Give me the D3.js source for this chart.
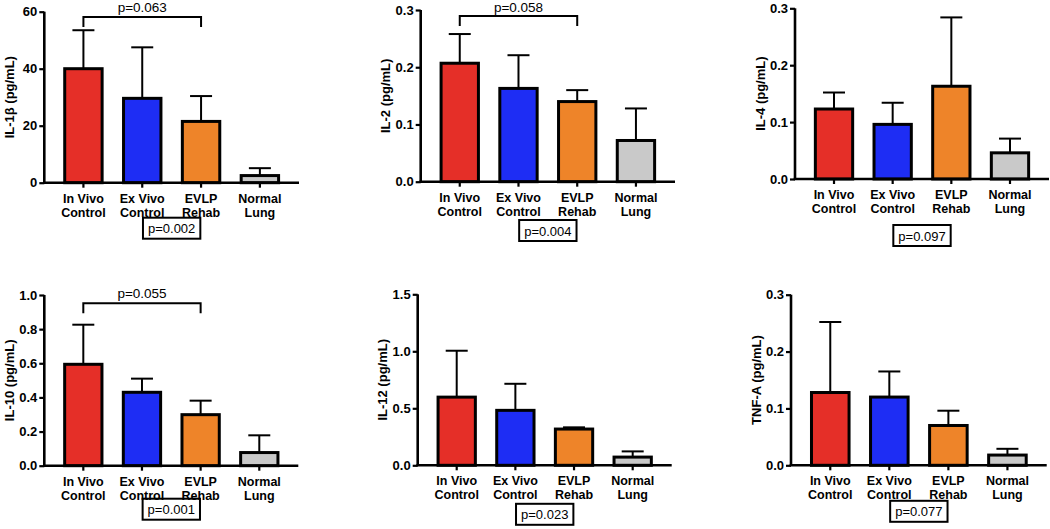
<!DOCTYPE html>
<html><head><meta charset="utf-8">
<script src="https://cdn.jsdelivr.net/npm/d3@7"></script>
<style>
body{margin:0;background:#fff;}
svg{display:block;}
text{font-family:"Liberation Sans",Arial,Helvetica,sans-serif;}
</style></head>
<body><svg id="c" width="1050" height="529"></svg>
<script>
// ---- data ----
const categories = [["In Vivo","Control"],["Ex Vivo","Control"],["EVLP","Rehab"],["Normal","Lung"]];
const barColors = ["#E52F28","#1E2DF4","#EE8429","#C9C9C9"];
const yLabels = ["IL-1β (pg/mL)","IL-2 (pg/mL)","IL-4 (pg/mL)","IL-10 (pg/mL)","IL-12 (pg/mL)","TNF-A (pg/mL)"];
const il1bMean = [40, 29.6, 21.5, 2.5],      il1bErr = [53.5, 47.5, 30.4, 5.1];
const il2Mean  = [0.207, 0.163, 0.140, 0.072], il2Err = [0.258, 0.221, 0.160, 0.128];
const il4Mean  = [0.123, 0.096, 0.163, 0.046], il4Err = [0.152, 0.134, 0.284, 0.071];
const il10Mean = [0.594, 0.430, 0.299, 0.077], il10Err = [0.826, 0.510, 0.381, 0.178];
const il12Mean = [0.598, 0.482, 0.318, 0.072], il12Err = [1.005, 0.715, 0.333, 0.122];
const tnfMean  = [0.128, 0.120, 0.070, 0.018], tnfErr = [0.252, 0.165, 0.096, 0.029];
const yMax = [60, 0.3, 0.3, 1.0, 1.5, 0.3];
const yTicks = [[0,20,40,60],[0,0.1,0.2,0.3],[0,0.1,0.2,0.3],[0,0.2,0.4,0.6,0.8,1.0],[0,0.5,1.0,1.5],[0,0.1,0.2,0.3]];
const tickFormats = ["d",".1f",".1f",".1f",".1f",".1f"];
const overallP = ["p=0.002","p=0.004","p=0.097","p=0.001","p=0.023","p=0.077"];
const bracketP = ["p=0.063","p=0.058",null,"p=0.055",null,null];

const means = [il1bMean, il2Mean, il4Mean, il10Mean, il12Mean, tnfMean];
const errs  = [il1bErr, il2Err, il4Err, il10Err, il12Err, tnfErr];

// ---- layout ----
const layout = [
  {left:44.3, right:299, top:11.7, bottom:182.7, box:35, br:17},
  {left:420.7, right:675, top:10, bottom:181.7, box:38.3, br:16},
  {left:795, right:1049, top:8.3, bottom:179, box:46, br:0},
  {left:44.3, right:298.3, top:295, bottom:465.7, box:33, br:303.3},
  {left:417.7, right:671.7, top:294.3, bottom:465.3, box:38.5, br:0},
  {left:791, right:1046.7, top:294.7, bottom:465.3, box:35.5, br:0}
];

const svg = d3.select("#c");

layout.forEach((L, pi) => {
  const g = svg.append("g");
  const x = d3.scaleBand().domain(d3.range(categories.length)).range([L.left, L.right])
    .paddingInner(0.33).paddingOuter(0.33);
  const y = d3.scaleLinear().domain([0, yMax[pi]]).range([L.bottom, L.top]);

  const data = means[pi].map((m, i) => ({i, m, e: errs[pi][i]}));
  // error bars (behind bars)
  const eg = g.append("g").attr("stroke","#000").attr("stroke-width",2).attr("fill","none");
  data.forEach(d => {
    const cx = x(d.i) + x.bandwidth()/2;
    eg.append("line").attr("x1",cx).attr("x2",cx).attr("y1",y(d.m)).attr("y2",y(d.e));
    eg.append("line").attr("x1",cx-11).attr("x2",cx+11).attr("y1",y(d.e)).attr("y2",y(d.e));
  });
  g.append("g").selectAll("rect").data(data).join("rect")
    .attr("x", d => x(d.i)+1)
    .attr("width", x.bandwidth()-2)
    .attr("y", d => y(d.m))
    .attr("height", d => y(0) - y(d.m))
    .attr("fill", d => barColors[d.i])
    .attr("stroke","#000").attr("stroke-width",3);

  // y axis
  const ya = g.append("g").attr("transform",`translate(${L.left},0)`)
    .call(d3.axisLeft(y).tickValues(yTicks[pi]).tickFormat(d3.format(tickFormats[pi]))
      .tickSize(5).tickSizeOuter(0).tickPadding(2));
  ya.select(".domain").attr("stroke-width",2.6).attr("d",`M0,${L.top}V${L.bottom}`);
  ya.selectAll(".tick line").attr("stroke-width",2.2);
  ya.selectAll(".tick text").attr("font-size",13).attr("font-weight","bold")
    .attr("font-family","'Liberation Sans',Arial,sans-serif").attr("fill","#000");

  // x axis
  const xa = g.append("g").attr("transform",`translate(0,${L.bottom})`)
    .call(d3.axisBottom(x).tickSize(5).tickSizeOuter(0).tickFormat(""));
  xa.select(".domain").attr("stroke-width",2.6).attr("d",`M${L.left-1.3},0H${L.right}`);
  xa.selectAll(".tick line").attr("stroke-width",2.2);

  // category labels
  const lab = g.append("g").attr("font-size",12.5).attr("font-weight","bold").attr("text-anchor","middle");
  categories.forEach((c, i) => {
    const cx = x(i) + x.bandwidth()/2;
    c.forEach((s, k) => {
      lab.append("text").attr("x",cx).attr("y",L.bottom + 20 + k*14).text(s);
    });
  });

  // y label
  g.append("text").attr("transform",`translate(${L.left-35},${(L.top+L.bottom)/2}) rotate(-90)`)
    .attr("text-anchor","middle").attr("dominant-baseline","central")
    .attr("font-size",13).attr("font-weight","bold").text(yLabels[pi]);

  // overall p box
  const bx = (x(1)+x(2))/2 + x.bandwidth()/2;
  const by = L.bottom + L.box;
  const t = g.append("text").attr("x",bx).attr("y",by+15.5).attr("text-anchor","middle")
    .attr("font-size",13).text(overallP[pi]);
  const tw = t.node().getComputedTextLength();
  g.append("rect").attr("x",bx - tw/2 - 5).attr("y",by).attr("width",tw+10).attr("height",21)
    .attr("fill","none").attr("stroke","#000").attr("stroke-width",2);

  // bracket
  if (bracketP[pi]) {
    const x1 = x(0)+x.bandwidth()/2, x2 = x(2)+x.bandwidth()/2;
    const yb = L.br;
    g.append("path").attr("d",`M${x1},${yb+10}V${yb}H${x2}V${yb+10}`)
      .attr("fill","none").attr("stroke","#000").attr("stroke-width",2);
    g.append("text").attr("x",(x1+x2)/2).attr("y",Math.max(12.2, yb-5.5)).attr("text-anchor","middle")
      .attr("font-size",13.5).text(bracketP[pi]);
  }
});
</script></body></html>
